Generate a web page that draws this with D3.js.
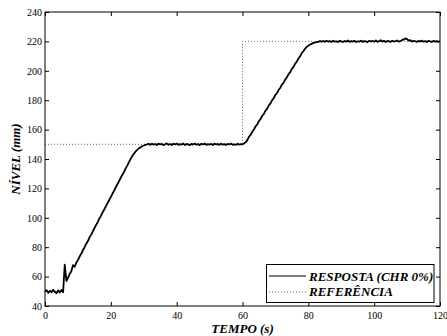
<!DOCTYPE html>
<html>
<head>
<meta charset="utf-8">
<script src="https://cdn.jsdelivr.net/npm/d3@7"></script>
<style>
  html, body { margin: 0; padding: 0; background: #fff; }
  svg { display: block; }
  .tick text { font-family: "Liberation Serif", "DejaVu Serif", serif; font-size: 10px; fill: #000; }
  .tick line { stroke: #000; }
</style>
</head>
<body>
<svg id="chart" width="447" height="336"></svg>
<script>
// Sampling step of the measured level (seconds)
const sampleStep = 0.5;

// Measured tank level (mm), one sample every 0.5 s from 0 s to 120 s
const nivelResposta = [
  49.6, 50.8, 48.9, 50.4, 49.3, 51.0, 49.7, 48.7, 50.6, 49.2,
  50.9, 49.4, 68.2, 57.0, 59.2, 61.8, 63.6, 67.8, 66.6, 69.4,
  71.2, 73.6, 75.5, 77.9, 79.8, 82.2, 84.0, 86.5, 88.4, 90.6,
  92.9, 95.0, 97.1, 99.4, 101.3, 103.7, 105.6, 107.9, 110.0, 112.1,
  114.2, 116.5, 118.4, 120.8, 122.8, 124.9, 127.1, 129.3, 131.2, 133.6,
  135.5, 137.9, 139.9, 142.0, 143.6, 145.0, 146.2, 147.2, 148.0, 148.7,
  149.2, 149.6, 149.9, 150.3, 149.6, 150.4, 149.8, 150.2, 149.5, 150.5,
  149.9, 150.3, 149.4, 150.1, 150.6, 149.7, 150.2, 149.5, 150.4, 149.9,
  150.5, 149.6, 150.1, 149.8, 150.6, 149.5, 150.2, 150.0, 149.4, 150.3,
  149.8, 150.5, 149.7, 150.2, 149.4, 150.4, 149.9, 150.6, 149.6, 150.1,
  149.8, 150.3, 149.5, 150.5, 149.9, 150.2, 149.6, 150.4, 149.8, 150.1,
  149.5, 150.3, 149.9, 150.6, 149.7, 150.0, 149.6, 150.4, 149.8, 150.1,
  150.0, 150.6, 151.5, 153.0, 155.2, 156.5, 158.7, 160.1, 162.3, 163.6,
  165.8, 167.2, 169.4, 170.7, 172.9, 174.3, 176.5, 177.8, 180.0, 181.4,
  183.6, 184.9, 187.1, 188.5, 190.7, 192.0, 194.2, 195.6, 197.8, 199.1,
  201.3, 202.7, 204.9, 206.2, 208.4, 209.8, 212.0, 213.3, 215.0, 216.2,
  217.1, 217.9, 218.3, 219.0, 219.2, 219.6, 219.7, 220.2, 219.8, 220.3,
  219.7, 220.4, 219.9, 220.2, 219.6, 220.5, 219.8, 220.1, 219.5, 220.4,
  220.0, 219.6, 220.3, 219.8, 220.6, 219.7, 220.2, 219.9, 220.4, 219.6,
  220.1, 219.8, 220.5, 219.7, 220.2, 220.0, 219.5, 220.4, 219.9, 220.3,
  219.8, 220.6, 219.7, 220.2, 220.8, 219.9, 220.4, 219.6, 220.3, 220.0,
  219.7, 220.4, 219.9, 220.2, 220.6, 219.8, 220.3, 220.9, 221.4, 222.0,
  221.6, 220.5, 220.9, 219.8, 220.4, 220.1, 219.7, 220.3, 219.9, 220.5,
  219.8, 220.2, 219.6, 220.4, 220.0, 219.7, 220.3, 219.9, 220.2, 219.8,
  220.0
];

// Setpoint: 150 mm until 60 s, then a step to 220 mm
const refTempo = [0, 60, 60, 120];
const refNivel = [150, 150, 220, 220];

// Axis ticks
const xTicks = [0, 20, 40, 60, 80, 100, 120];
const yTicks = [40, 60, 80, 100, 120, 140, 160, 180, 200, 220, 240];

// Legend entries
const legendLabels = ["RESPOSTA (CHR 0%)", "REFERÊNCIA"];

const svg = d3.select("#chart");
const plotLeft = 45, plotRight = 440, plotTop = 12, plotBottom = 306;

const x = d3.scaleLinear().domain([0, 120]).range([plotLeft, plotRight]);
const y = d3.scaleLinear().domain([40, 240]).range([plotBottom, plotTop]);

const resposta = nivelResposta.map((v, i) => ({ t: i * sampleStep, v }));
const referencia = refTempo.map((t, i) => ({ t, v: refNivel[i] }));

const line = d3.line().x(d => x(d.t)).y(d => y(d.v));

// Axes with inward ticks on all four sides
const tick = 4;
svg.append("g").attr("transform", `translate(0,${plotBottom})`)
  .call(d3.axisBottom(x).tickValues(xTicks).tickSizeInner(-tick).tickSizeOuter(0).tickPadding(6))
  .call(g => g.select(".domain").remove());
svg.append("g").attr("transform", `translate(${plotLeft},0)`)
  .call(d3.axisLeft(y).tickValues(yTicks).tickSizeInner(-tick).tickSizeOuter(0).tickPadding(3))
  .call(g => g.select(".domain").remove());
svg.append("g").attr("transform", `translate(0,${plotTop})`)
  .call(d3.axisTop(x).tickValues(xTicks).tickSizeInner(-tick).tickSizeOuter(0).tickFormat(""))
  .call(g => g.select(".domain").remove());
svg.append("g").attr("transform", `translate(${plotRight},0)`)
  .call(d3.axisRight(y).tickValues(yTicks).tickSizeInner(-tick).tickSizeOuter(0).tickFormat(""))
  .call(g => g.select(".domain").remove());

// Setpoint (dotted)
svg.append("path").datum(referencia)
  .attr("d", line)
  .attr("fill", "none")
  .attr("stroke", "#666")
  .attr("stroke-width", 1)
  .attr("stroke-dasharray", "1,2");

// Measured level
svg.append("path").datum(resposta)
  .attr("d", line)
  .attr("fill", "none")
  .attr("stroke", "#000")
  .attr("stroke-width", 1.8)
  .attr("stroke-linejoin", "round");

// Plot frame
svg.append("rect")
  .attr("x", plotLeft).attr("y", plotTop)
  .attr("width", plotRight - plotLeft).attr("height", plotBottom - plotTop)
  .attr("fill", "none").attr("stroke", "#000").attr("stroke-width", 1);

// Axis titles
const titleFont = "Liberation Serif, DejaVu Serif, serif";
svg.append("text")
  .attr("x", (plotLeft + plotRight) / 2).attr("y", 333)
  .attr("text-anchor", "middle")
  .attr("font-family", titleFont).attr("font-size", 13)
  .attr("font-weight", "bold").attr("font-style", "italic")
  .text("TEMPO (s)");
svg.append("text")
  .attr("transform", `translate(19.5,${(plotTop + plotBottom) / 2}) rotate(-90)`)
  .attr("text-anchor", "middle")
  .attr("font-family", titleFont).attr("font-size", 13)
  .attr("font-weight", "bold").attr("font-style", "italic")
  .text("NÍVEL (mm)");

// Legend
const lg = svg.append("g");
lg.append("rect")
  .attr("x", 266.5).attr("y", 264.5).attr("width", 167.5).attr("height", 38)
  .attr("fill", "#fff").attr("stroke", "#000").attr("stroke-width", 1);
lg.append("line")
  .attr("x1", 269).attr("x2", 306).attr("y1", 276).attr("y2", 276)
  .attr("stroke", "#000").attr("stroke-width", 1.2);
lg.append("line")
  .attr("x1", 269).attr("x2", 306).attr("y1", 292).attr("y2", 292)
  .attr("stroke", "#666").attr("stroke-width", 1).attr("stroke-dasharray", "1,2");
lg.selectAll("text.lab").data(legendLabels).join("text")
  .attr("class", "lab")
  .attr("x", 309).attr("y", (d, i) => 280.5 + i * 15.5)
  .attr("font-family", titleFont).attr("font-size", 13)
  .attr("font-weight", "bold").attr("font-style", "italic")
  .text(d => d);
</script>
</body>
</html>
